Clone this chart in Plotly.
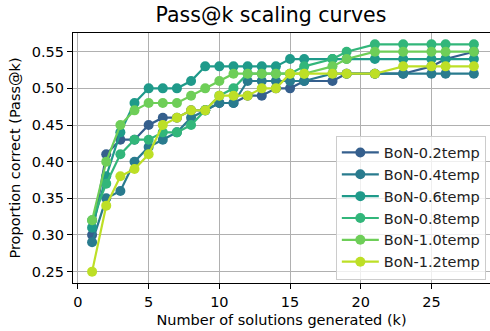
import plotly.graph_objects as go

# Data
k_values = [1, 2, 3, 4, 5, 6, 7, 8, 9, 10, 11, 12, 13, 14, 15, 16, 18, 19, 21, 23, 25, 26, 28]
series_names = ["BoN-0.2temp", "BoN-0.4temp", "BoN-0.6temp", "BoN-0.8temp", "BoN-1.0temp", "BoN-1.2temp"]
bon_02 = [0.30, 0.41, 0.43, 0.43, 0.45, 0.46, 0.46, 0.47, 0.47, 0.48, 0.48, 0.49, 0.49, 0.50, 0.50, 0.51, 0.51, 0.52, 0.52, 0.52, 0.53, 0.54, 0.55]
bon_04 = [0.29, 0.35, 0.36, 0.40, 0.42, 0.43, 0.44, 0.46, 0.47, 0.48, 0.48, 0.51, 0.51, 0.51, 0.51, 0.51, 0.52, 0.52, 0.52, 0.52, 0.52, 0.52, 0.52]
bon_06 = [0.31, 0.38, 0.44, 0.48, 0.50, 0.50, 0.50, 0.51, 0.53, 0.53, 0.53, 0.53, 0.53, 0.53, 0.54, 0.54, 0.54, 0.54, 0.54, 0.54, 0.54, 0.54, 0.54]
bon_08 = [0.32, 0.37, 0.41, 0.43, 0.43, 0.44, 0.44, 0.45, 0.47, 0.49, 0.50, 0.52, 0.52, 0.52, 0.52, 0.53, 0.54, 0.55, 0.56, 0.56, 0.56, 0.56, 0.56]
bon_10 = [0.32, 0.40, 0.45, 0.47, 0.48, 0.48, 0.48, 0.49, 0.50, 0.51, 0.52, 0.52, 0.52, 0.52, 0.52, 0.52, 0.53, 0.54, 0.55, 0.55, 0.55, 0.55, 0.55]
bon_12 = [0.25, 0.34, 0.38, 0.39, 0.41, 0.45, 0.46, 0.47, 0.47, 0.49, 0.49, 0.49, 0.50, 0.50, 0.52, 0.52, 0.52, 0.52, 0.52, 0.53, 0.53, 0.53, 0.53]
x_ticks = [0, 5, 10, 15, 20, 25]
y_ticks = [0.25, 0.30, 0.35, 0.40, 0.45, 0.50, 0.55]

colors = ["#355f8d", "#297b8e", "#1f9a8a", "#32b67a", "#6ece58", "#bddf26"]
all_series = [bon_02, bon_04, bon_06, bon_08, bon_10, bon_12]

FONT = "DejaVu Sans"
fig = go.Figure()
for name, vals, col in zip(series_names, all_series, colors):
    fig.add_trace(go.Scatter(
        x=k_values, y=vals, name=name, mode="lines+markers",
        line=dict(color=col, width=2.2),
        marker=dict(color=col, size=10),
    ))

axis_common = dict(
    showgrid=True, gridcolor="#b0b0b0", gridwidth=1.1,
    showline=True, linecolor="black", linewidth=1.2,
    ticks="outside", ticklen=5, tickwidth=1.2, tickcolor="black",
    zeroline=False, tickfont=dict(family=FONT, size=14.5, color="black"),
)
fig.update_xaxes(
    range=[-0.35, 29.14], tickvals=x_ticks, mirror=True,
    title=dict(text="Number of solutions generated (k)", font=dict(family=FONT, size=14.5, color="black"), standoff=6),
    **axis_common,
)
fig.update_yaxes(
    range=[0.2345, 0.5755], tickvals=y_ticks, tickformat=".2f",
    title=dict(text="Proportion correct (Pass@k)", font=dict(family=FONT, size=14.5, color="black"), standoff=7),
    **axis_common,
)
fig.update_layout(
    width=490, height=331,
    margin=dict(l=73, r=0, t=33, b=48, pad=0),
    plot_bgcolor="white", paper_bgcolor="white",
    title=dict(text="Pass@k scaling curves", x=0.553, xanchor="center", y=1 - 15 / 331, yanchor="middle",
               font=dict(family=FONT, size=20.5, color="black")),
    legend=dict(x=0.99, y=0.014, xanchor="right", yanchor="bottom", itemwidth=37,
                bgcolor="rgba(255,255,255,0.8)", bordercolor="#cccccc", borderwidth=1,
                font=dict(family=FONT, size=14.5, color="#222222")),
    showlegend=True,
)
fig.write_html("out.html")
